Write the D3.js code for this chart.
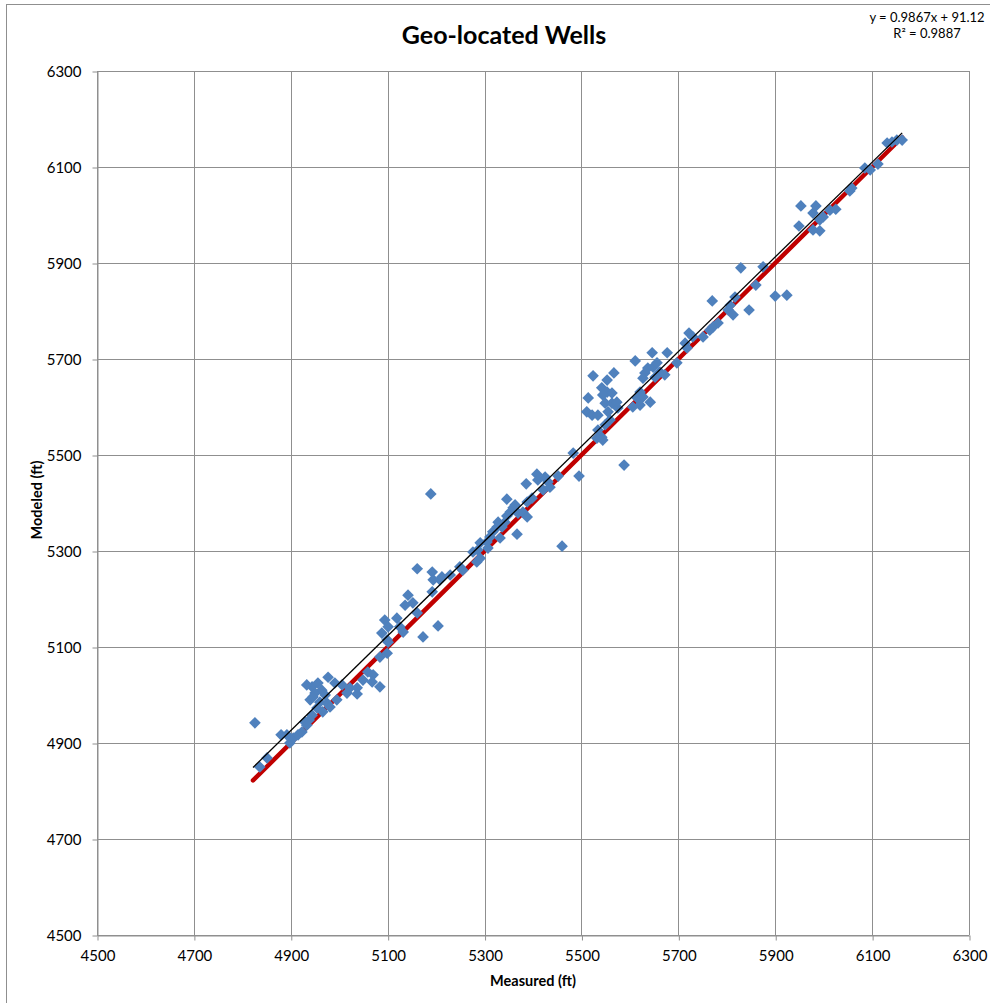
<!DOCTYPE html>
<html>
<head>
<meta charset="utf-8">
<script src="https://cdn.jsdelivr.net/npm/d3@7"></script>
<style>
  html, body { margin: 0; padding: 0; background: #fff; }
  svg { display: block; }
  text { font-family: Lato, "Open Sans", sans-serif; fill: #000; }
</style>
</head>
<body>
<svg id="chart" width="990" height="1003"></svg>
<script>
// ---- Data ----
const measuredFt = [
  4826, 4836, 4851, 4880, 4898,
  4905, 4915, 4923, 4933, 4944, 4933, 4956, 4964, 4950, 4971, 4940, 4960, 4975, 4954, 4966,
  4977, 4991, 4995, 4981, 5022, 5037, 5059, 5070, 5049, 5068, 5084, 5084, 5099, 5101,
  5006, 5016, 5037, 4946, 4892, 4929, 4944, 4938,
  5094, 5101, 5088, 5099, 5119, 5125, 5132, 5142, 5136, 5152, 5161, 5161, 5192, 5194, 5208,
  5212, 5229, 5192, 5204, 5173, 5249, 5255, 5189,
  5276, 5286, 5284, 5291, 5291, 5307, 5305, 5311, 5317, 5326, 5328, 5332, 5336, 5342, 5346,
  5353, 5359, 5363, 5369, 5379, 5388, 5367, 5346, 5388, 5398, 5386, 5408, 5425, 5431, 5421,
  5435, 5452, 5410, 5460, 5495, 5483, 5588,
  5524, 5567, 5553, 5611, 5646, 5677, 5714, 5542, 5553, 5563, 5544, 5514, 5631, 5637, 5648,
  5656, 5662, 5672, 5697, 5652, 5627, 5549, 5563, 5573, 5575, 5511, 5522, 5534, 5555, 5559,
  5549, 5621, 5615, 5627, 5642, 5621, 5606, 5534, 5542, 5532, 5544, 5722,
  5730, 5751, 5765, 5772, 5782, 5803, 5807, 5813, 5817, 5846, 5770, 5718, 5829, 5875, 5860,
  5900, 5924,
  5949, 5953, 5978, 5978, 5984, 5992, 5992, 5999, 6013, 6025, 6054, 6058, 6085, 6096, 6112,
  6131, 6141, 6151, 6162
];
const modeledFt = [
  4942, 4850, 4869, 4917, 4900,
  4910, 4917, 4923, 4937, 5017, 5021, 5025, 5010, 5004, 5000, 4990, 4985, 4983, 4973, 4965,
  5037, 5025, 4990, 4975, 5015, 5015, 5048, 5042, 5031, 5027, 5017, 5079, 5087, 5110,
  5021, 5004, 5002, 4996, 4917, 4944, 4958, 4948,
  5156, 5142, 5129, 5115, 5160, 5142, 5131, 5208, 5187, 5192, 5171, 5263, 5256, 5240, 5240,
  5246, 5250, 5215, 5144, 5121, 5267, 5260, 5419,
  5298, 5302, 5277, 5285, 5317, 5306, 5319, 5329, 5340, 5350, 5360, 5327, 5350, 5360, 5373,
  5381, 5390, 5396, 5379, 5381, 5371, 5335, 5408, 5402, 5410, 5440, 5460, 5454, 5444, 5427,
  5433, 5456, 5448, 5310, 5456, 5504, 5479,
  5665, 5671, 5656, 5696, 5713, 5713, 5733, 5640, 5631, 5629, 5625, 5619, 5671, 5681, 5683,
  5692, 5673, 5667, 5692, 5662, 5660, 5608, 5608, 5610, 5598, 5590, 5583, 5583, 5590, 5573,
  5563, 5631, 5619, 5621, 5610, 5604, 5600, 5552, 5537, 5535, 5531, 5754,
  5746, 5746, 5760, 5767, 5775, 5802, 5812, 5792, 5829, 5802, 5821, 5723, 5890, 5892, 5854,
  5831, 5833,
  5977, 6019, 6004, 5969, 6019, 5990, 5967, 5996, 6010, 6012, 6050, 6056, 6098, 6094, 6106,
  6150, 6152, 6156, 6156
];
const xTicks = [4500, 4700, 4900, 5100, 5300, 5500, 5700, 5900, 6100, 6300];
const yTicks = [4500, 4700, 4900, 5100, 5300, 5500, 5700, 5900, 6100, 6300];
const trendSlope = 0.9867;
const trendIntercept = 91.12;
const equationLines = ["y = 0.9867x + 91.12", "R\u00B2 = 0.9887"];
const titleText = "Geo-located Wells";
const xLabel = "Measured (ft)";
const yLabel = "Modeled (ft)";

// ---- Layout ----
const svg = d3.select("#chart");
const plot = { left: 97, right: 969, top: 71, bottom: 935 };
const x = d3.scaleLinear().domain([4500, 6300]).range([plot.left, plot.right]);
const y = d3.scaleLinear().domain([4500, 6300]).range([plot.bottom, plot.top]);
const gridColor = "#8f8f8f";

// outer chart border
svg.append("rect")
  .attr("x", 6.5).attr("y", 4.5)
  .attr("width", 1010).attr("height", 1010)
  .attr("fill", "none").attr("stroke", "#8f8f8f").attr("stroke-width", 1);

// gridlines
const grid = svg.append("g");
grid.selectAll("line.vx").data(xTicks).join("line")
  .attr("x1", d => Math.round(x(d)) + 0.5).attr("x2", d => Math.round(x(d)) + 0.5)
  .attr("y1", plot.top).attr("y2", plot.bottom)
  .attr("stroke", gridColor).attr("stroke-width", 1);
grid.selectAll("line.hy").data(yTicks).join("line")
  .attr("y1", d => Math.round(y(d)) + 0.5).attr("y2", d => Math.round(y(d)) + 0.5)
  .attr("x1", plot.left).attr("x2", plot.right)
  .attr("stroke", gridColor).attr("stroke-width", 1);

// axes (tick marks + labels)
const xAxis = d3.axisBottom(x).tickValues(xTicks).tickSizeInner(5).tickSizeOuter(0).tickPadding(10).tickFormat(d3.format("d"));
const yAxis = d3.axisLeft(y).tickValues(yTicks).tickSizeInner(5).tickSizeOuter(0).tickPadding(11).tickFormat(d3.format("d"));
const gx = svg.append("g").attr("transform", `translate(0.5,${Math.round(plot.bottom) + 0.5})`).call(xAxis);
const gy = svg.append("g").attr("transform", `translate(${plot.left + 0.5},0.5)`).call(yAxis);
[gx, gy].forEach(g => {
  g.select(".domain").attr("stroke", gridColor);
  g.selectAll(".tick line").attr("stroke", gridColor);
  g.selectAll(".tick text").attr("font-family", "Lato, sans-serif").attr("font-size", "15px").attr("fill", "#000");
});

const ext = d3.extent(measuredFt);

// 1:1 line (red)
svg.append("line")
  .attr("x1", x(ext[0] - 4)).attr("y1", y(ext[0] - 4))
  .attr("x2", x(ext[1])).attr("y2", y(ext[1]))
  .attr("stroke", "#c00000").attr("stroke-width", 4.5).attr("stroke-linecap", "round");

// markers
const pts = measuredFt.map((m, i) => [m, modeledFt[i]]);
const diamond = d3.symbol().type(d3.symbolSquare).size(68);
svg.append("g").selectAll("path").data(pts).join("path")
  .attr("d", diamond)
  .attr("transform", d => `translate(${x(d[0])},${y(d[1])}) rotate(45)`)
  .attr("fill", "#4f81bd");

// trendline (black)
svg.append("line")
  .attr("x1", x(ext[0] - 4)).attr("y1", y(trendSlope * (ext[0] - 4) + trendIntercept))
  .attr("x2", x(ext[1])).attr("y2", y(trendSlope * ext[1] + trendIntercept))
  .attr("stroke", "#000").attr("stroke-width", 1.3);

// title
svg.append("text")
  .attr("x", 504).attr("y", 44)
  .attr("text-anchor", "middle")
  .attr("font-size", "25px").attr("font-weight", "bold")
  .text(titleText);

// equation
svg.append("g").selectAll("text").data(equationLines).join("text")
  .attr("x", 927).attr("y", (d, i) => 22 + i * 16)
  .attr("text-anchor", "middle")
  .attr("font-size", "13px")
  .text(d => d);

// axis titles
svg.append("text")
  .attr("x", 533).attr("y", 986)
  .attr("text-anchor", "middle")
  .attr("font-size", "14.5px").attr("font-weight", "bold")
  .text(xLabel);
svg.append("text")
  .attr("transform", "translate(42,500) rotate(-90)")
  .attr("text-anchor", "middle")
  .attr("font-size", "14.5px").attr("font-weight", "bold")
  .text(yLabel);
</script>
</body>
</html>
